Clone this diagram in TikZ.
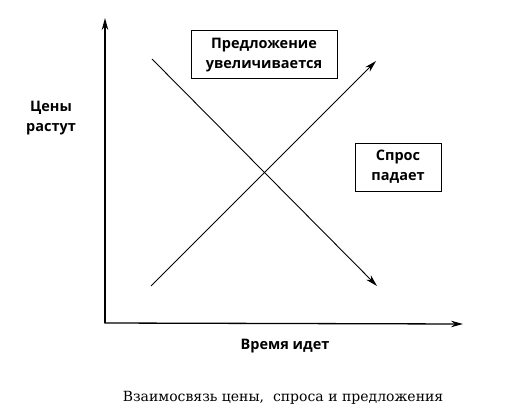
\documentclass[tikz,border=0pt]{standalone}
\usepackage{fontspec}
\setmainfont{DejaVu Serif}
\setsansfont{Open Sans}
\usetikzlibrary{arrows.meta,positioning}

\begin{document}
\begin{tikzpicture}[
    x=1pt, y=-1pt,
    >={Stealth[length=12pt,width=6.5pt]},
    axis/.style={->, line width=1.3pt},
    trend/.style={->, line width=0.9pt},
    tagbox/.style={draw, line width=1pt, align=center,
                   font=\sffamily\bfseries\fontsize{14.5}{20}\selectfont,
                   minimum height=48pt},
    axislabel/.style={align=center,
                      font=\sffamily\bfseries\fontsize{14.5}{20}\selectfont},
    caption/.style={font=\fontsize{14}{16}\selectfont},
  ]
  \useasboundingbox (0,0) rectangle (526,414);

  % === Axes ===
  \coordinate (origin) at (105,323);
  \coordinate (ytip) at (105,18);
  \coordinate (xtip) at (463,324);
  \draw[axis] (origin) -- (ytip);
  \draw[axis] ([xshift=-0.6pt]origin) -- (xtip);

  % === Boxes ===
  \node[tagbox, minimum width=146pt] (supply) at (264,55)
    {Предложение\\увеличивается};
  \node[tagbox, minimum width=86pt] (demand) at (398,167)
    {Спрос\\падает};

  % === Axis labels ===
  \node[axislabel] (prices) at (51,118) {Цены\\растут};
  \node[axislabel] (time) at (285,346) {Время идет};

  % === Trend lines ===
  \coordinate (s0) at (151,286);
  \coordinate (s1) at (376,61);
  \coordinate (d0) at (152,59);
  \coordinate (d1) at (377,286);
  \draw[trend] (s0) -- (s1);
  \draw[trend] (d0) -- (d1);

  % === Caption ===
  \node[caption] (title) at (283,398)
    {Взаимосвязь цены,\ \ спроса и предложения};

\end{tikzpicture}
\end{document}
